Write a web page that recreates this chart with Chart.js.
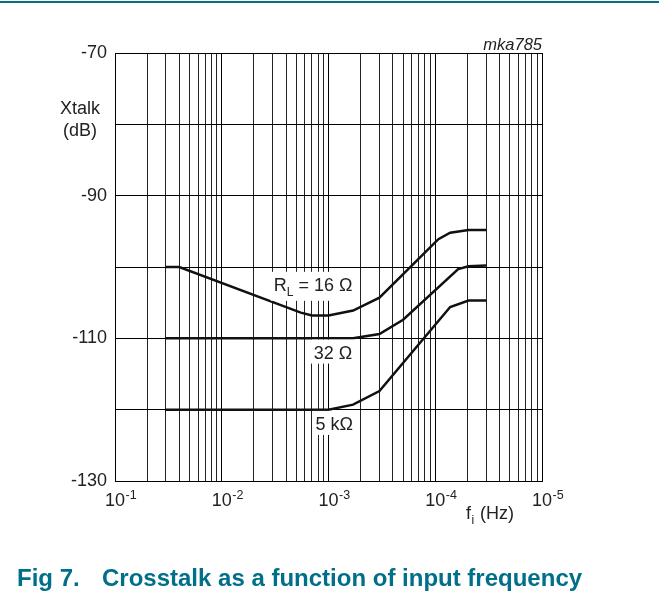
<!DOCTYPE html>
<html>
<head>
<meta charset="utf-8">
<script src="https://cdn.jsdelivr.net/npm/chart.js@4/dist/chart.umd.min.js"></script>
<style>
  html, body { margin: 0; padding: 0; background: #fff; }
  canvas { display: block; }
</style>
</head>
<body>
<canvas id="grafico" width="659" height="601"></canvas>
<script>
// frecuencia (Hz) y diafonia (dB)
const frec16 = [30, 40, 550, 700, 1000, 1700, 3000, 10700, 13800, 20500, 30000];
const xtalk16 = [-100, -100, -106.4, -106.8, -106.8, -106.1, -104.3, -96.1, -95.2, -94.8, -94.8];

const frec32 = [30, 1700, 3000, 5000, 16400, 20500, 30000];
const xtalk32 = [-110, -110, -109.4, -107.4, -100.3, -99.9, -99.8];

const frec5k = [30, 1000, 1700, 3000, 13800, 20500, 30000];
const xtalk5k = [-120, -120, -119.3, -117.4, -105.6, -104.7, -104.7];

// ejes
const decadas = [10, 100, 1000, 10000, 100000];
const exponentesX = ['-1', '-2', '-3', '-4', '-5'];
const etiquetasY = [-70, -90, -110, -130];

// rotulos de curvas: [texto, subindice, resto, frecuencia, dB]
const rotulos = [
    ['R', 'L', ' = 16 \u03A9', 718, -102.5],
    ['32 \u03A9', '', '', 1100, -112.0],
    ['5 k\u03A9', '', '', 1130, -122.0]
];

const fuente = '"Liberation Sans", Arial, sans-serif';
const teal = '#006f88';

function serie(xs, ys) {
    return {
        data: xs.map((x, i) => ({ x: x, y: ys[i] })),
        borderColor: '#111',
        borderWidth: 2.5,
        pointRadius: 0,
        tension: 0,
        fill: false
    };
}

const textos = {
    id: 'textos',
    afterDraw(chart) {
        const ctx = chart.ctx;
        const sx = chart.scales.x;
        const sy = chart.scales.y;
        ctx.save();

        // linea superior
        ctx.fillStyle = teal;
        ctx.fillRect(0, 1, 659, 2);

        // rotulos sobre las curvas
        rotulos.forEach(r => {
            const px = sx.getPixelForValue(r[3]);
            const py = sy.getPixelForValue(r[4]);
            ctx.font = '18px ' + fuente;
            const w1 = ctx.measureText(r[0]).width;
            const w3 = ctx.measureText(r[2]).width;
            ctx.font = '12px ' + fuente;
            const w2 = ctx.measureText(r[1]).width;
            const total = w1 + w2 + w3;
            let x0 = px - total / 2;
            ctx.fillStyle = '#fff';
            ctx.fillRect(x0 - 3, py - 13, total + 6, r[1] ? 29 : 24);
            ctx.fillStyle = '#222';
            ctx.textBaseline = 'alphabetic';
            ctx.textAlign = 'left';
            ctx.font = '18px ' + fuente;
            ctx.fillText(r[0], x0, py + 6.5);
            ctx.font = '12px ' + fuente;
            ctx.fillText(r[1], x0 + w1, py + 11);
            ctx.font = '18px ' + fuente;
            ctx.fillText(r[2], x0 + w1 + w2, py + 6.5);
        });

        // etiquetas del eje x con exponente
        ctx.fillStyle = '#222';
        decadas.forEach((d, i) => {
            const px = sx.getPixelForValue(d);
            ctx.font = '18px ' + fuente;
            ctx.textAlign = 'center';
            ctx.fillText('10', px, 506);
            ctx.textAlign = 'left';
            ctx.font = '12.5px ' + fuente;
            ctx.fillText(exponentesX[i], px + 10.5, 499);
        });

        // titulos de ejes
        ctx.font = '18px ' + fuente;
        ctx.textAlign = 'center';
        ctx.fillText('Xtalk', 80, 114);
        ctx.fillText('(dB)', 80, 136);

        ctx.textAlign = 'left';
        ctx.fillText('f', 466, 519);
        const wf = ctx.measureText('f').width;
        ctx.font = '12px ' + fuente;
        ctx.fillText('i', 466 + wf + 0.5, 524);
        ctx.font = '18px ' + fuente;
        ctx.fillText(' (Hz)', 466 + wf + 4, 519);

        ctx.font = 'italic 16.5px ' + fuente;
        ctx.textAlign = 'right';
        ctx.fillText('mka785', 542, 50);

        // pie de figura
        ctx.fillStyle = teal;
        ctx.textAlign = 'left';
        ctx.font = 'bold 24px ' + fuente;
        ctx.fillText('Fig 7.', 17, 586);
        ctx.fillText('Crosstalk as a function of input frequency', 102, 586);

        ctx.restore();
    }
};

new Chart(document.getElementById('grafico').getContext('2d'), {
    type: 'line',
    data: {
        datasets: [serie(frec16, xtalk16), serie(frec32, xtalk32), serie(frec5k, xtalk5k)]
    },
    options: {
        responsive: false,
        animation: false,
        layout: { padding: { top: 53, left: 0, right: 117, bottom: 100 } },
        plugins: { legend: { display: false }, tooltip: { enabled: false } },
        scales: {
            x: {
                type: 'logarithmic',
                min: 10,
                max: 100000,
                afterBuildTicks: scale => {
                    const t = [];
                    decadas.forEach(d => {
                        for (let k = 1; k <= 9; k++) {
                            if (k * d <= 100000) t.push({ value: k * d });
                        }
                    });
                    scale.ticks = t;
                },
                afterFit: scale => { scale.height = 20; },
                ticks: { display: false },
                border: { color: '#000', width: 1 },
                grid: {
                    drawTicks: false,
                    color: c => decadas.includes(c.tick && c.tick.value) ? '#000' : '#222',
                    lineWidth: 1
                }
            },
            y: {
                min: -130,
                max: -70,
                afterFit: scale => { scale.width = 115; },
                ticks: {
                    stepSize: 10,
                    padding: 8,
                    color: '#222',
                    font: { family: fuente, size: 18 },
                    callback: v => etiquetasY.includes(v) ? String(v) : ''
                },
                border: { color: '#000', width: 1 },
                grid: { drawTicks: false, color: '#000', lineWidth: 1 }
            }
        }
    },
    plugins: [textos]
});
</script>
</body>
</html>
